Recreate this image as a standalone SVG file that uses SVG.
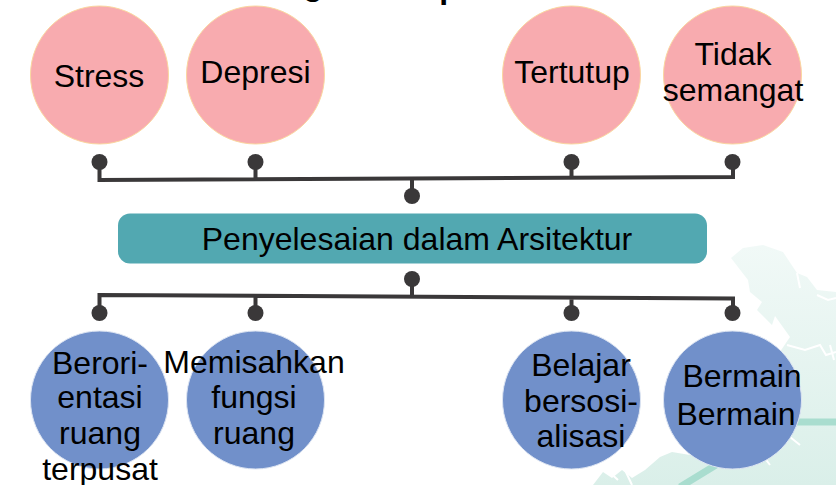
<svg xmlns="http://www.w3.org/2000/svg" width="836" height="485" viewBox="0 0 836 485">
<defs>
<linearGradient id="land" x1="0" y1="245" x2="0" y2="485" gradientUnits="userSpaceOnUse"><stop offset="0" stop-color="#F1F9F7"/><stop offset="1" stop-color="#DAEFE9"/></linearGradient>
<style>
text{font-family:"Liberation Sans",Arial,sans-serif;font-size:32px;fill:#000;text-anchor:middle}
.pink{fill:#F8ABAF;stroke:#FAD7A0;stroke-width:1}
.blue{fill:#7190CA;stroke:#DCE4F2;stroke-width:1}
.line{fill:none;stroke:#3A3839;stroke-width:4}
.dot{fill:#3A3839}
.river{fill:none;stroke:#fff;stroke-width:2}
.road{fill:none;stroke:#A9DDCF;stroke-width:7}
</style>
</defs>
<rect width="836" height="485" fill="#fff"/>
<g id="background">
<path fill="url(#land)" d="M731 258L743 248L763 245L783 252L797 273L807 277L817 290L836 292V485H593L603 472L612 478L622 470L632 478L645 470L660 457L672 452L690 455L720 440L790 337L775 316L772 325L757 310L762 302L750 292L748 280Z"/>
<path class="river" d="M797 273L800 288M817 295L828 300L836 298M787 345L805 350L820 345L826 355L836 352M790 437L800 445M830 345L834 360M770 465L755 445M607 470L618 480M625 470L632 485"/>
<path class="road" d="M795 422H836M680 487L716 465"/>
</g>
<g id="title-clipped">
<text x="313" y="-5" style="font-weight:bold">g</text>
<text x="449" y="-2" style="font-weight:bold">p</text>
</g>
<g id="connectors">
<path class="line" d="M99.500 162V180L733 177V162M255.500 162V179M571.500 162V178M412 178V196"/>
<path class="line" d="M99.500 313V295L733 298.500V313M255.500 296V313M571.500 298V313M412 279V296"/>
<circle class="dot" cx="99.500" cy="162" r="8"/><circle class="dot" cx="255.500" cy="162" r="8"/><circle class="dot" cx="571.500" cy="162" r="8"/><circle class="dot" cx="732.500" cy="162" r="8"/><circle class="dot" cx="412" cy="196" r="8"/>
<circle class="dot" cx="412" cy="279" r="8"/><circle class="dot" cx="99.500" cy="313" r="8"/><circle class="dot" cx="255.500" cy="313" r="8"/><circle class="dot" cx="571.500" cy="313" r="8"/><circle class="dot" cx="732.500" cy="313" r="8"/>
</g>
<g id="stress"><circle class="pink" cx="99.500" cy="75" r="69"/><text x="99" y="87">Stress</text></g>
<g id="depresi"><circle class="pink" cx="255.500" cy="75" r="69"/><text x="255.500" y="83">Depresi</text></g>
<g id="tertutup"><circle class="pink" cx="571.500" cy="75" r="69"/><text x="572" y="83">Tertutup</text></g>
<g id="tidak-semangat"><circle class="pink" cx="732.500" cy="75" r="69"/><text x="733" y="65">Tidak</text><text x="733" y="101">semangat</text></g>
<g id="penyelesaian"><rect x="118" y="213.500" width="589" height="50" rx="12" fill="#52A8B1"/><text x="417" y="250">Penyelesaian dalam Arsitektur</text></g>
<g id="berorientasi"><circle class="blue" cx="99.500" cy="400" r="69"/><text x="100" y="374">Berori-</text><text x="100" y="408">entasi</text><text x="100" y="444">ruang</text><text x="100" y="480">terpusat</text></g>
<g id="memisahkan"><circle class="blue" cx="255.500" cy="400" r="69"/><text x="254" y="373">Memisahkan</text><text x="254" y="408">fungsi</text><text x="254" y="444">ruang</text></g>
<g id="belajar"><circle class="blue" cx="571.500" cy="400" r="69"/><text x="581" y="376">Belajar</text><text x="581" y="412">bersosi-</text><text x="581" y="447">alisasi</text></g>
<g id="bermain"><circle class="blue" cx="732.500" cy="400" r="69"/><text x="742" y="387">Bermain</text><text x="736" y="425">Bermain</text></g>
</svg>
